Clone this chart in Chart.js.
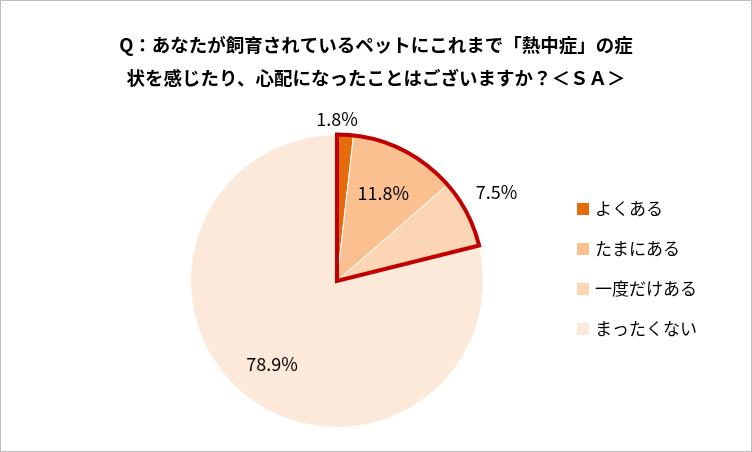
<!DOCTYPE html>
<html><head><meta charset="utf-8">
<script src="https://cdn.jsdelivr.net/npm/chart.js@4"></script>
<style>html,body{margin:0;padding:0;background:#fff}#w{width:752px;height:452px;position:relative}</style>
</head><body><div id="w"><canvas id="c" width="752" height="452"></canvas></div>
<script>
const titleLines=["Q：あなたが飼育されているペットにこれまで「熱中症」の症","状を感じたり、心配になったことはございますか？＜ＳＡ＞"];
const categories=["よくある","たまにある","一度だけある","まったくない"];
const values=[1.8,11.8,7.5,78.9];
const colors=["#E46C0A","#FAC090","#FCD5B5","#FDE9D9"];
const labelRadius=[1.1,0.68,1.12,0.72];
const font='"Noto Sans CJK JP","Noto Sans",sans-serif';
const deco={id:'deco',afterDraw(ch){
 const c=ch.ctx, arcs=ch.getDatasetMeta(0).data;
 c.save();
 c.strokeStyle='#BFBFBF';c.lineWidth=1;c.strokeRect(0.5,0.5,751,451);
 c.fillStyle='#000';c.textAlign='center';c.textBaseline='middle';
 c.font='bold 18.5px '+font;
 c.fillText(titleLines[0],376,45);c.fillText(titleLines[1],376,78);
 const a0=arcs[0],a2=arcs[2];
 c.beginPath();c.moveTo(a0.x,a0.y);c.arc(a0.x,a0.y,a0.outerRadius,a0.startAngle,a2.endAngle);c.closePath();
 c.strokeStyle='#C00000';c.lineWidth=4;c.lineJoin='miter';c.stroke();
 c.font='18px '+font;c.fillStyle='#000';
 arcs.forEach((a,i)=>{const m=(a.startAngle+a.endAngle)/2,r=a.outerRadius*labelRadius[i];
  let x=a.x+Math.cos(m)*r,y=a.y+Math.sin(m)*r;
  if(i==0){x=a.x;y=a.y-a.outerRadius-15;}
  if(i==2){x+=14;y-=13;}
  c.fillText(values[i].toFixed(1)+'%',x,y);});
 c.textAlign='left';c.font='17px '+font;
 categories.forEach((t,i)=>{const y=209+i*40;c.fillStyle=colors[i];c.fillRect(577,y-6,12,12);c.fillStyle='#000';c.fillText(t,595,y);});
 c.restore();}};
new Chart(document.getElementById('c'),{type:'pie',
 data:{labels:categories,datasets:[{data:values,backgroundColor:colors,borderColor:'#fff',borderWidth:1}]},
 options:{responsive:false,animation:false,layout:{padding:{top:134,bottom:24,left:190,right:268}},
  plugins:{legend:{display:false},title:{display:false},tooltip:{enabled:false}}},
 plugins:[deco]});
</script></body></html>
